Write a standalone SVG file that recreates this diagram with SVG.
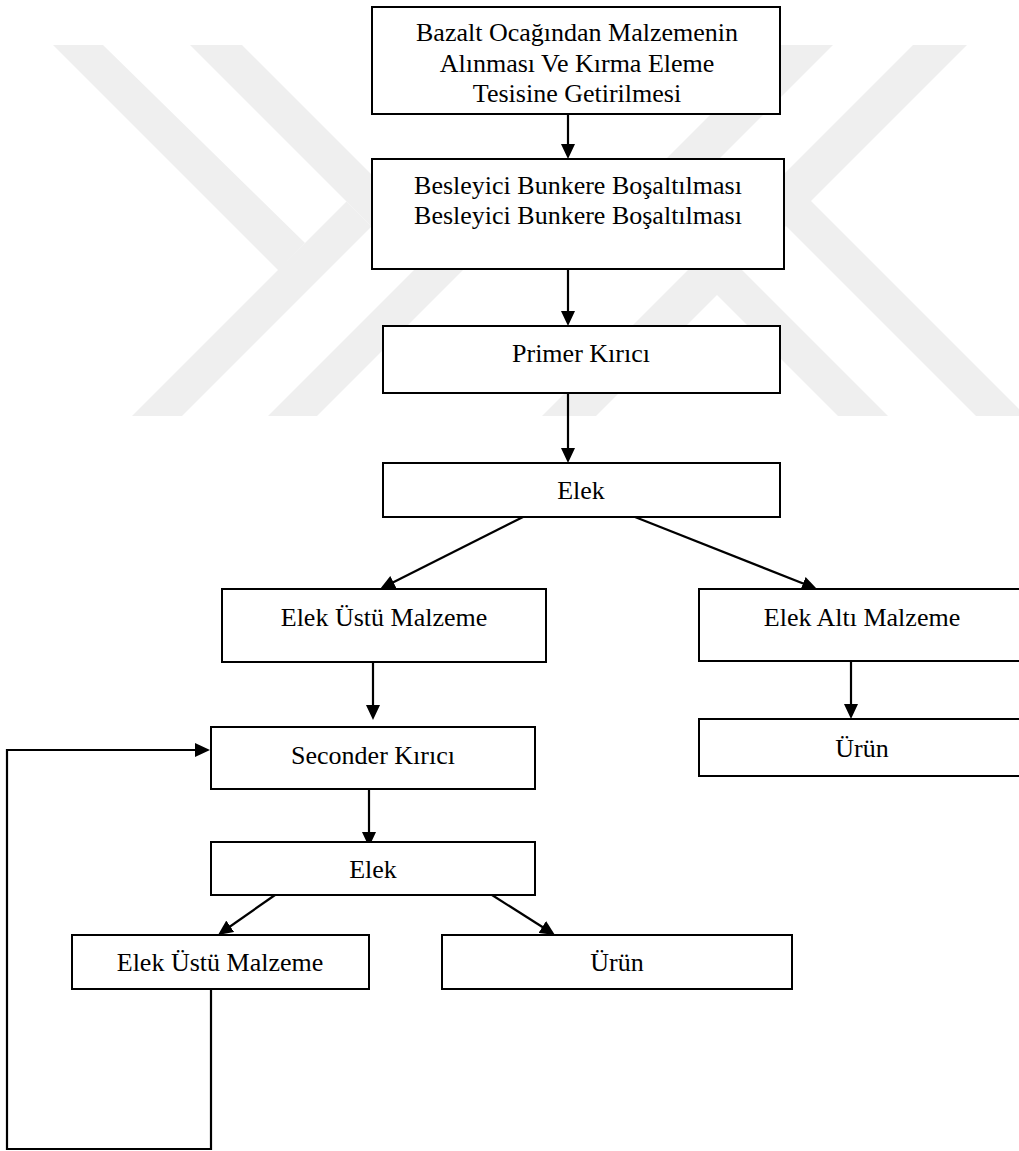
<svg xmlns="http://www.w3.org/2000/svg" width="1019" height="1151" viewBox="0 0 1019 1151">
<defs>
<style>
.wm{fill:#efefef;stroke:none}
.box{fill:#ffffff;stroke:#000000;stroke-width:2}
.lbl{font-family:"Liberation Serif","Times New Roman",serif;font-size:26px;fill:#000000;text-anchor:middle}
.con{fill:none;stroke:#000000;stroke-width:2.2}
</style>
<marker id="arr" viewBox="0 0 15 14" refX="9" refY="7" markerWidth="15" markerHeight="14" markerUnits="userSpaceOnUse" orient="auto">
<path d="M0,0 L15,7 L0,14 Z" fill="#000000"/>
</marker>
</defs>
<rect x="0" y="0" width="1019" height="1151" fill="#ffffff"/>
<g id="watermark">
<polygon class="wm" points="53,45 103,45 305,243 278.5,270.5"/>
<polygon class="wm" points="132,416 182,416 371.5,226.5 346.5,201.5"/>
<polygon class="wm" points="190,45 242,45 465,268 317,416 268,416 414.5,269.5"/>
<polygon class="wm" points="780,45 833,45 675,203 888,416 838,416 623.5,201.5"/>
<polygon class="wm" points="913,45 967,45 811,201 1026,416 976,416 786,226 596,416 542,416"/>
</g>
<g id="connectors">
<line class="con" x1="568" y1="114" x2="568" y2="153" marker-end="url(#arr)"/>
<line class="con" x1="568" y1="269" x2="568" y2="320" marker-end="url(#arr)"/>
<line class="con" x1="568" y1="393" x2="568" y2="457" marker-end="url(#arr)"/>
<line class="con" x1="523" y1="517" x2="385.4" y2="586.3" marker-end="url(#arr)"/>
<line class="con" x1="635" y1="517" x2="811.4" y2="586.8" marker-end="url(#arr)"/>
<line class="con" x1="851" y1="661" x2="851" y2="713" marker-end="url(#arr)"/>
<line class="con" x1="373" y1="662" x2="373" y2="714" marker-end="url(#arr)"/>
<line class="con" x1="369" y1="789" x2="369" y2="841" marker-end="url(#arr)"/>
<line class="con" x1="275" y1="895" x2="222.9" y2="931.5" marker-end="url(#arr)"/>
<line class="con" x1="492" y1="895" x2="549.9" y2="931.8" marker-end="url(#arr)"/>
<polyline class="con" points="211,989 211,1149 7,1149 7,750 204,750" marker-end="url(#arr)"/>
</g>
<g id="n1">
<rect class="box" x="372" y="7" width="408" height="107"/>
<text class="lbl" x="577" y="41">Bazalt Ocağından Malzemenin</text>
<text class="lbl" x="577" y="72">Alınması Ve Kırma Eleme</text>
<text class="lbl" x="577" y="102">Tesisine Getirilmesi</text>
</g>
<g id="n2">
<rect class="box" x="372" y="159" width="412" height="110"/>
<text class="lbl" x="578" y="194">Besleyici Bunkere Boşaltılması</text>
<text class="lbl" x="578" y="224">Besleyici Bunkere Boşaltılması</text>
</g>
<g id="n3">
<rect class="box" x="383" y="326" width="397" height="67"/>
<text class="lbl" x="581" y="362">Primer Kırıcı</text>
</g>
<g id="n4">
<rect class="box" x="383" y="463" width="397" height="54"/>
<text class="lbl" x="581" y="499">Elek</text>
</g>
<g id="n5">
<rect class="box" x="222" y="589" width="324" height="73"/>
<text class="lbl" x="384" y="626">Elek Üstü Malzeme</text>
</g>
<g id="n6">
<rect class="box" x="699" y="589" width="330" height="72"/>
<text class="lbl" x="862" y="626">Elek Altı Malzeme</text>
</g>
<g id="n7">
<rect class="box" x="699" y="719" width="330" height="57"/>
<text class="lbl" x="862" y="757">Ürün</text>
</g>
<g id="n8">
<rect class="box" x="211" y="727" width="324" height="62"/>
<text class="lbl" x="373" y="764">Seconder Kırıcı</text>
</g>
<g id="n9">
<rect class="box" x="211" y="842" width="324" height="53"/>
<text class="lbl" x="373" y="878">Elek</text>
</g>
<g id="n10">
<rect class="box" x="72" y="935" width="297" height="54"/>
<text class="lbl" x="220" y="971">Elek Üstü Malzeme</text>
</g>
<g id="n11">
<rect class="box" x="442" y="935" width="350" height="54"/>
<text class="lbl" x="617" y="971">Ürün</text>
</g>
</svg>
